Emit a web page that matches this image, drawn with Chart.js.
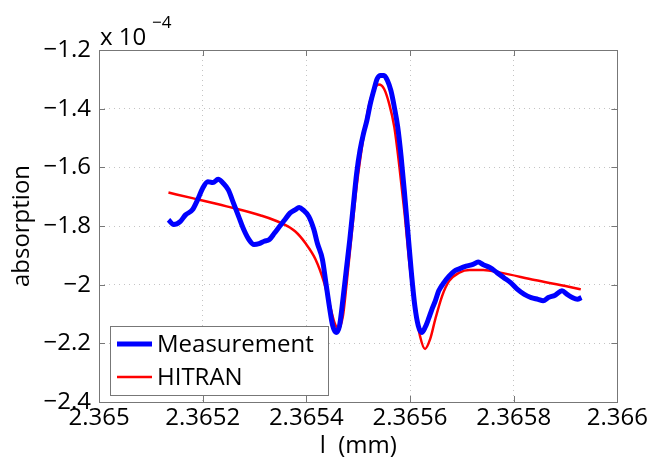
<!DOCTYPE html>
<html>
<head>
<meta charset="utf-8">
<script src="https://cdn.jsdelivr.net/npm/chart.js@4"></script>
<style>
  html, body { margin: 0; padding: 0; background: #fff; }
  canvas { display: block; }
</style>
</head>
<body>
<canvas id="chart" width="650" height="458"></canvas>
<script>
// wavelength (mm) and absorption (x 1e-4)
const measX = [2.3651340, 2.3651439, 2.3651571, 2.3651670, 2.3651802, 2.3651901, 2.3652000, 2.3652099, 2.3652198, 2.3652297,
    2.3652396, 2.3652495, 2.3652594, 2.3652693, 2.3652792, 2.3652891, 2.3652990, 2.3653089, 2.3653188, 2.3653287,
    2.3653386, 2.3653485, 2.3653584, 2.3653683, 2.3653782, 2.3653861, 2.3653947, 2.3654046, 2.3654145, 2.3654211,
    2.3654310, 2.3654376, 2.3654442, 2.3654508, 2.3654574, 2.3654640, 2.3654706, 2.3654772, 2.3654838, 2.3654904,
    2.3654970, 2.3655036, 2.3655102, 2.3655168, 2.3655234, 2.3655300, 2.3655366, 2.3655432, 2.3655498, 2.3655564,
    2.3655630, 2.3655696, 2.3655762, 2.3655828, 2.3655894, 2.3655960, 2.3656026, 2.3656092, 2.3656158, 2.3656224,
    2.3656290, 2.3656356, 2.3656422, 2.3656488, 2.3656554, 2.3656653, 2.3656752, 2.3656851, 2.3656950, 2.3657082,
    2.3657214, 2.3657314, 2.3657413, 2.3657545, 2.3657677, 2.3657809, 2.3657941, 2.3658073, 2.3658205, 2.3658337,
    2.3658469, 2.3658568, 2.3658667, 2.3658799, 2.3658931, 2.3659030, 2.3659129, 2.3659228, 2.3659307];
const measY = [-1.779, -1.795, -1.784, -1.762, -1.745, -1.711, -1.671, -1.649, -1.652, -1.641,
    -1.654, -1.677, -1.722, -1.767, -1.812, -1.846, -1.863, -1.860, -1.852, -1.846,
    -1.824, -1.801, -1.779, -1.756, -1.745, -1.737, -1.747, -1.767, -1.812, -1.858,
    -1.914, -1.993, -2.072, -2.140, -2.163, -2.140, -2.049, -1.947, -1.846, -1.733,
    -1.620, -1.541, -1.485, -1.440, -1.383, -1.338, -1.298, -1.287, -1.287, -1.304,
    -1.338, -1.394, -1.462, -1.564, -1.689, -1.824, -1.959, -2.072, -2.140, -2.163,
    -2.146, -2.117, -2.084, -2.055, -2.021, -1.993, -1.971, -1.954, -1.946, -1.937,
    -1.931, -1.923, -1.932, -1.942, -1.959, -1.976, -1.993, -2.016, -2.033, -2.044,
    -2.050, -2.055, -2.044, -2.036, -2.021, -2.033, -2.044, -2.050, -2.044];

const hitranX = [2.3651340, 2.3651802, 2.3652462, 2.3653122, 2.3653518, 2.3653782, 2.3653980, 2.3654178, 2.3654343, 2.3654442,
    2.3654541, 2.3654620, 2.3654706, 2.3654772, 2.3654871, 2.3654970, 2.3655102, 2.3655201, 2.3655300, 2.3655399,
    2.3655498, 2.3655597, 2.3655696, 2.3655795, 2.3655894, 2.3655993, 2.3656092, 2.3656191, 2.3656290, 2.3656389,
    2.3656488, 2.3656620, 2.3656752, 2.3656950, 2.3657148, 2.3657413, 2.3657743, 2.3658403, 2.3659063, 2.3659294];
const hitranY = [-1.686, -1.705, -1.733, -1.764, -1.790, -1.818, -1.858, -1.914, -1.993, -2.061,
    -2.129, -2.151, -2.106, -2.004, -1.834, -1.665, -1.496, -1.394, -1.338, -1.318,
    -1.332, -1.383, -1.462, -1.598, -1.756, -1.937, -2.072, -2.174, -2.219, -2.185,
    -2.117, -2.038, -1.988, -1.959, -1.950, -1.950, -1.959, -1.984, -2.007, -2.016];

const xTicks = [2.365, 2.3652, 2.3654, 2.3656, 2.3658, 2.366];
const yTicks = [-2.4, -2.2, -2, -1.8, -1.6, -1.4, -1.2];
const seriesNames = ['Measurement', 'HITRAN'];
const seriesColors = ['#0000ff', '#ff0000'];

const FONT = '"Open Sans", sans-serif';
const AXIS = '#777777';

const toPoints = (xs, ys) => xs.map((x, i) => ({ x: x, y: ys[i] }));
const fmtNum = v => String(Number(v.toFixed(4))).replace('-', '\u2212');

// box, inward ticks, exponent label and legend
const framePlugin = {
    id: 'frame',
    afterDraw(chart) {
        const ctx = chart.ctx;
        const ca = chart.chartArea;
        const xs = chart.scales.x;
        const ys = chart.scales.y;
        const tl = 6;

        ctx.save();
        ctx.strokeStyle = AXIS;
        ctx.lineWidth = 1;
        ctx.beginPath();
        xTicks.forEach(v => {
            const px = Math.round(xs.getPixelForValue(v)) + 0.5;
            ctx.moveTo(px, ca.bottom); ctx.lineTo(px, ca.bottom - tl);
            ctx.moveTo(px, ca.top); ctx.lineTo(px, ca.top + tl);
        });
        yTicks.forEach(v => {
            const py = Math.round(ys.getPixelForValue(v)) + 0.5;
            ctx.moveTo(ca.left, py); ctx.lineTo(ca.left + tl, py);
            ctx.moveTo(ca.right, py); ctx.lineTo(ca.right - tl, py);
        });
        ctx.stroke();
        ctx.strokeRect(Math.round(ca.left) + 0.5, Math.round(ca.top) + 0.5,
            Math.round(ca.right - ca.left), Math.round(ca.bottom - ca.top));

        // x 10^-4
        ctx.fillStyle = '#000';
        ctx.textBaseline = 'alphabetic';
        ctx.textAlign = 'left';
        ctx.font = '24px ' + FONT;
        ctx.fillText('x 10', ca.left + 1, ca.top - 5);
        ctx.font = '17px ' + FONT;
        ctx.fillText('\u22124', ca.left + 53, ca.top - 22);

        // legend
        const lx = ca.left + 11, ly = ca.bottom - 76, lw = 218, lh = 69;
        ctx.fillStyle = '#fff';
        ctx.fillRect(lx, ly, lw, lh);
        ctx.strokeStyle = AXIS;
        ctx.strokeRect(lx + 0.5, ly + 0.5, lw, lh);
        const rows = [ly + 18, ly + 51];
        const widths = [5, 2.5];
        ctx.font = '24px ' + FONT;
        ctx.textBaseline = 'middle';
        seriesNames.forEach((name, i) => {
            ctx.strokeStyle = seriesColors[i];
            ctx.lineWidth = widths[i];
            ctx.beginPath();
            ctx.moveTo(lx + 7, rows[i]);
            ctx.lineTo(lx + 42, rows[i]);
            ctx.stroke();
            ctx.fillStyle = '#000';
            ctx.fillText(name, lx + 47, rows[i] + 1);
        });
        ctx.restore();
    }
};

new Chart(document.getElementById('chart'), {
    type: 'scatter',
    data: {
        datasets: [
            {
                label: seriesNames[0],
                data: toPoints(measX, measY),
                showLine: true,
                borderColor: seriesColors[0],
                borderWidth: 5,
                pointRadius: 0,
                cubicInterpolationMode: 'monotone'
            },
            {
                label: seriesNames[1],
                data: toPoints(hitranX, hitranY),
                showLine: true,
                borderColor: seriesColors[1],
                borderWidth: 2.5,
                pointRadius: 0,
                cubicInterpolationMode: 'monotone'
            }
        ]
    },
    options: {
        responsive: false,
        animation: false,
        devicePixelRatio: 1,
        layout: { padding: { top: 50, right: 29, left: 0, bottom: 0 } },
        plugins: {
            legend: { display: false },
            tooltip: { enabled: false }
        },
        scales: {
            x: {
                type: 'linear',
                min: 2.365,
                max: 2.366,
                afterBuildTicks: s => { s.ticks = xTicks.map(v => ({ value: v })); },
                afterFit: s => { s.height = 56; },
                ticks: {
                    callback: v => fmtNum(v),
                    font: { family: FONT, size: 24 },
                    color: '#000',
                    padding: 2,
                    maxRotation: 0,
                    autoSkip: false
                },
                grid: { color: '#c4c4c4', lineWidth: 1, drawTicks: false },
                border: { display: false, dash: [1, 4] },
                title: {
                    display: true,
                    text: 'l  (mm)',
                    color: '#000',
                    font: { family: FONT, size: 24, lineHeight: 1 },
                    padding: { top: 0, bottom: 0 }
                }
            },
            y: {
                min: -2.4,
                max: -1.2,
                afterBuildTicks: s => { s.ticks = yTicks.map(v => ({ value: v })); },
                afterFit: s => { s.width = 99; },
                ticks: {
                    callback: v => fmtNum(v),
                    font: { family: FONT, size: 24 },
                    color: '#000',
                    padding: 8
                },
                grid: { color: '#c4c4c4', lineWidth: 1, drawTicks: false },
                border: { display: false, dash: [1, 4] },
                title: {
                    display: true,
                    text: 'absorption',
                    color: '#000',
                    font: { family: FONT, size: 24, lineHeight: 1 },
                    padding: { top: 10, bottom: 0 }
                }
            }
        }
    },
    plugins: [framePlugin]
});
</script>
</body>
</html>
